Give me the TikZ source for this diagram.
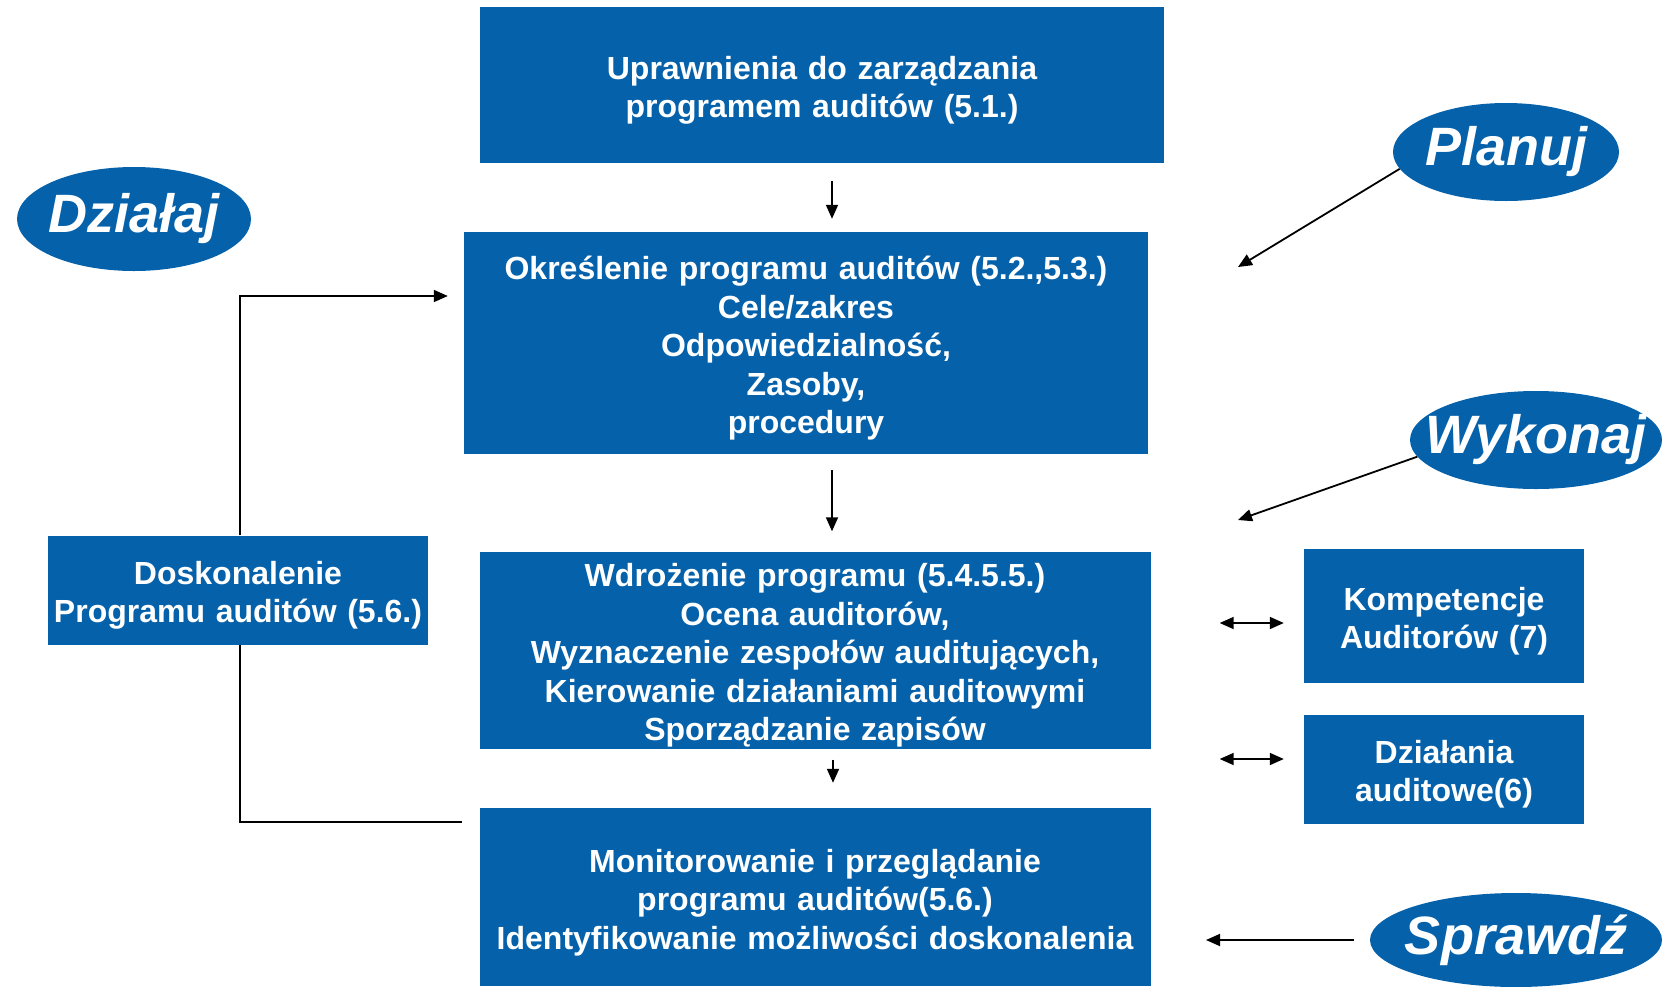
\documentclass[tikz,border=0pt]{standalone}
\usepackage{fontspec}
\setmainfont{Liberation Sans}
\usetikzlibrary{shapes.geometric,arrows.meta}
\definecolor{auditblue}{RGB}{5,97,170}

\begin{document}
\begin{tikzpicture}[x=1pt,y=-1pt,
  box/.style 2 args={fill=auditblue,text=white,inner sep=0pt,align=center,
    minimum width=#1,text width=#1,minimum height=#2,
    execute at begin node={\rule{0pt}{34pt}},
    font=\fontsize{32}{38.4}\selectfont\bfseries},
  phase/.style={ellipse,fill=auditblue,text=white,inner sep=0pt,
    font=\fontsize{54}{60}\selectfont\bfseries\itshape},
  arr/.style={-{Triangle[length=14pt,width=12pt]},line width=1.8pt},
  darr/.style={{Triangle[length=14pt,width=12pt]}-{Triangle[length=14pt,width=12pt]},line width=1.8pt},
  link/.style={line width=1.8pt}]

  \useasboundingbox (0,0) rectangle (1674,986); %% page size

  %% main column
  \node[box={684pt}{156pt}] (upr) at (822,85)
    {Uprawnienia do zarządzania\\programem auditów (5.1.)};
  \node[box={684pt}{222pt}] (okr) at (806,343)
    {Określenie programu auditów (5.2.,5.3.)\\Cele/zakres\\Odpowiedzialność,\\Zasoby,\\procedury};
  \node[box={671pt}{197pt}] (wdr) at (815,650)
    {Wdrożenie programu (5.4.5.5.)\\Ocena auditorów,\\Wyznaczenie zespołów auditujących,\\Kierowanie działaniami auditowymi\\Sporządzanie zapisów};
  \node[box={671pt}{178pt}] (mon) at (815,897)
    {Monitorowanie i przeglądanie\\programu auditów(5.6.)\\Identyfikowanie możliwości doskonalenia};

  %% side boxes
  \node[box={380pt}{109pt}] (dosk) at (238,590)
    {Doskonalenie\\Programu auditów (5.6.)};
  \node[box={280pt}{134pt}] (komp) at (1444,616)
    {Kompetencje\\Auditorów (7)};
  \node[box={280pt}{109pt}] (dzia) at (1444,769)
    {Działania\\auditowe(6)};

  %% PDCA labels
  \node[phase,minimum width=234pt,minimum height=104pt] (act) at (134,219) {\makebox[0pt]{Działaj}};
  \node[phase,minimum width=226pt,minimum height=98pt] (plan) at (1506,152) {\makebox[0pt]{Planuj}};
  \node[phase,minimum width=252pt,minimum height=98pt] (do) at (1536,440) {\makebox[0pt]{Wykonaj}};
  \node[phase,minimum width=292pt,minimum height=94pt] (check) at (1516,940) {\makebox[0pt]{Sprawdź}};

  \coordinate (plan-end) at (1238,267);
  \coordinate (do-end) at (1238,520);
  \coordinate (check-end) at (1206,940);

  %% flow down
  \draw[arr,shorten <=18pt,shorten >=13pt]
    ([xshift=10pt]upr.south) -- ([xshift=10pt]upr.south |- okr.north);
  \draw[arr,shorten <=16pt,shorten >=20pt]
    ([xshift=26pt]okr.south) -- ([xshift=26pt]okr.south |- wdr.north);
  \draw[arr,shorten <=11pt,shorten >=25pt]
    ([xshift=18pt]wdr.south) -- ([xshift=18pt]wdr.south |- mon.north);

  %% loop back
  \draw[arr] ([xshift=2pt]dosk.north) |- ([xshift=-16pt,yshift=47pt]okr.west);
  \draw[link] ([xshift=2pt]dosk.south) |- ([xshift=-17pt,yshift=75pt]mon.west);

  %% side links
  \draw[darr,shorten <=69pt,shorten >=20pt]
    ([yshift=-7pt]wdr.east |- komp.west) -- ([yshift=-7pt]komp.west);
  \draw[darr,shorten <=69pt,shorten >=20pt]
    ([yshift=10pt]wdr.east |- dzia.west) -- ([yshift=10pt]dzia.west);

  \draw[arr] (plan.189) -- (plan-end);
  \draw[arr] (do.188) -- (do-end);
  \draw[arr,shorten <=16pt] (check.west) -- (check-end);

\end{tikzpicture}
\end{document}
